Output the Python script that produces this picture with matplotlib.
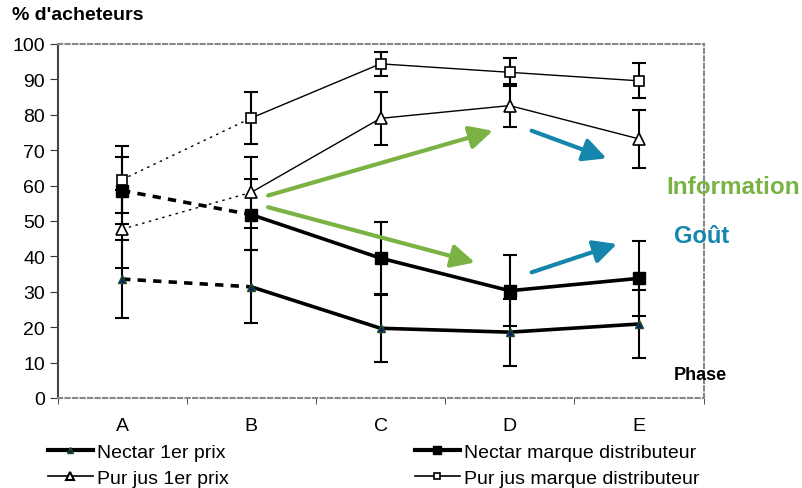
import numpy as np
import matplotlib
matplotlib.use("Agg")
import matplotlib.pyplot as plt
from matplotlib.lines import Line2D

plt.rcParams["font.family"] = ["Liberation Sans", "DejaVu Sans"]

phases = ["A", "B", "C", "D", "E"]
nectar_1er = [33.6, 31.4, 19.7, 18.6, 20.9]
nectar_1er_err = [11.0, 10.3, 9.5, 9.5, 9.7]
nectar_md = [58.6, 51.8, 39.5, 30.3, 33.8]
nectar_md_err = [9.5, 10.0, 10.2, 10.1, 10.5]
purjus_1er = [47.7, 58.1, 79.0, 82.6, 73.2]
purjus_1er_err = [11.0, 10.0, 7.4, 6.0, 8.2]
purjus_md = [61.7, 79.1, 94.4, 92.0, 89.6]
purjus_md_err = [9.5, 7.3, 3.3, 4.0, 4.9]

# annotation arrows (start, end) in data units
info_arrows = [((1.13, 57.2), (2.87, 75.5)), ((1.13, 53.9), (2.73, 38.3))]
gout_arrows = [((3.17, 75.5), (3.75, 67.7)), ((3.17, 35.5), (3.83, 43.5))]

GREEN = "#7AB244"
BLUE = "#1486AC"

fig = plt.figure(figsize=(8.02, 4.89), dpi=100)
ax = fig.add_axes([57.5 / 802, 1 - 399 / 489, 646 / 802, 354 / 489])

x = np.arange(len(phases))

series = [
    (purjus_md, purjus_md_err, dict(marker="s", ms=7, mfc="white", mec="black", mew=1.2), 1.0, (0, (1.8, 3.2))),
    (purjus_1er, purjus_1er_err, dict(marker="^", ms=8, mfc="white", mec="black", mew=1.2), 1.0, (0, (1.8, 3.2))),
    (nectar_md, nectar_md_err, dict(marker="s", ms=8, mfc="black", mec="black"), 2.6, (0, (2.3, 2.0))),
    (nectar_1er, nectar_1er_err, dict(marker="^", ms=6, mfc="#0B1F6B", mec="#1E4D1E", mew=1.0), 2.6, (0, (2.3, 2.0))),
]

for y, err, mk, lw, ls in series:
    ax.errorbar(x, y, yerr=err, fmt="none", ecolor="black", elinewidth=1.5,
                capsize=5, capthick=1.5, zorder=2)
    ax.plot(x[:2], y[:2], color="black", lw=lw, ls=ls, zorder=3)
    ax.plot(x[1:], y[1:], color="black", lw=lw, ls="-", zorder=3)
    ax.plot(x, y, ls="none", zorder=4, **mk)

for (s, e) in info_arrows:
    ax.annotate("", xy=e, xytext=s,
                arrowprops=dict(arrowstyle="-|>,head_length=0.7,head_width=0.35",
                                mutation_scale=20, color=GREEN, lw=3,
                                shrinkA=0, shrinkB=0), zorder=5)
for (s, e) in gout_arrows:
    ax.annotate("", xy=e, xytext=s,
                arrowprops=dict(arrowstyle="-|>,head_length=0.7,head_width=0.35",
                                mutation_scale=20, color=BLUE, lw=3,
                                shrinkA=0, shrinkB=0), zorder=5)

ax.set_xlim(-0.5, 4.5)
ax.set_ylim(0, 100)
ax.set_yticks(np.arange(0, 101, 10))
ax.set_xticks(x)
ax.set_xticklabels(phases)
ax.set_xticks(np.arange(-0.5, 4.6, 1), minor=True)
ax.tick_params(axis="x", which="major", length=0, labelsize=14, pad=14)
ax.tick_params(axis="x", which="minor", length=4, direction="out", color="#333333")
ax.tick_params(axis="y", length=6, direction="out", labelsize=14, color="#333333", pad=3)

for side in ["top", "right", "bottom"]:
    ax.spines[side].set_color("#888888")
    ax.spines[side].set_linewidth(1.5)
    ax.spines[side].set_linestyle((0, (2.0, 1.6)))
ax.spines["left"].set_color("#444444")
ax.spines["left"].set_linewidth(1.5)
ax.spines["left"].set_linestyle((0, (3.0, 1.0)))

fig.text(12 / 802, 1 - 16 / 489, "% d'acheteurs", fontsize=14, fontweight="bold", va="center", ha="left")
fig.text(733 / 802, 1 - 188 / 489, "Information", fontsize=17.5, fontweight="bold", color=GREEN, va="center", ha="center")
fig.text(702 / 802, 1 - 237 / 489, "Goût", fontsize=17, fontweight="bold", color=BLUE, va="center", ha="center")
fig.text(700 / 802, 1 - 376 / 489, "Phase", fontsize=13, fontweight="bold", va="center", ha="center")

h_n1 = Line2D([], [], color="black", lw=3.0, marker="^", ms=5, mfc="#0B1F6B", mec="#1E4D1E")
h_p1 = Line2D([], [], color="black", lw=1.2, marker="^", ms=6, mfc="white", mec="black", mew=1.5)
h_nmd = Line2D([], [], color="black", lw=3.0, marker="s", ms=6, mfc="black", mec="black")
h_pmd = Line2D([], [], color="black", lw=1.2, marker="s", ms=5, mfc="white", mec="black", mew=1.2)

leg_kw = dict(loc="upper left", frameon=False, fontsize=14, handlelength=2.3,
              handletextpad=0.2, labelspacing=0.45, borderpad=0, borderaxespad=0)
fig.legend(handles=[h_n1, h_p1], labels=["Nectar 1er prix", "Pur jus 1er prix"],
           bbox_to_anchor=(48 / 802, 1 - 444 / 489), **leg_kw)
fig.legend(handles=[h_nmd, h_pmd], labels=["Nectar marque distributeur", "Pur jus marque distributeur"],
           bbox_to_anchor=(415 / 802, 1 - 444 / 489), **leg_kw)

fig.savefig("out.png", dpi=100)
